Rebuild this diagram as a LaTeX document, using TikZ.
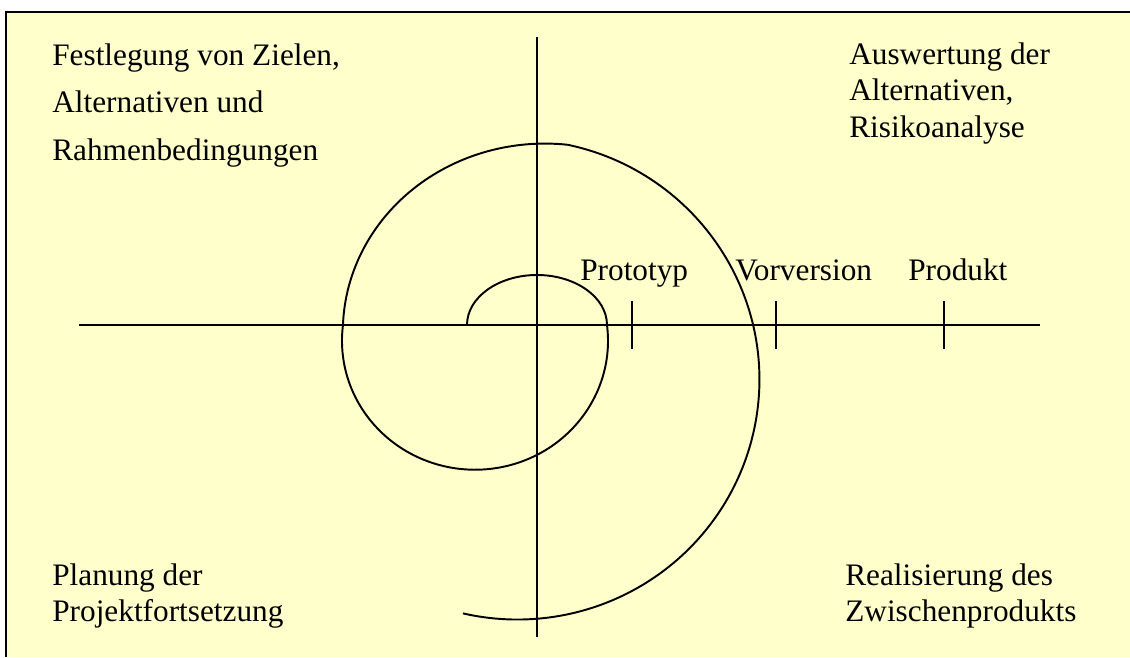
\documentclass[tikz,border=0pt]{standalone}
\usepackage{fontspec}
\setmainfont{Liberation Serif}
\usetikzlibrary{positioning}
\definecolor{PaleYellow}{RGB}{255,255,204}

\tikzset{
  quadrant/.style={anchor=north west, align=left, inner sep=0pt},
  stage/.style={anchor=base west, inner sep=0pt},
  axis/.style={line width=0.8pt}
}

\begin{document}
\begin{tikzpicture}[scale=0.2, font=\fontsize{17.8}{21}\selectfont]
    \useasboundingbox (-53.7,-33.2) rectangle (59.3,32.5);
    % Background and frame
    \fill[white] (-53.7,-33.2) rectangle (59.3,32.5);
    \fill[PaleYellow] (-53.1,-33.2) rectangle (59.3,31.3);
    \draw[line width=1.2pt] (-53.1,-33.2) -- (-53.1,31.3) -- (59.3,31.3);

    % Axes with ticks
    \draw[axis] (0,28.8) -- (0,-31.2);
    \draw[axis] (-45.8,0) -- (50.3,0);
    \foreach \x in {9.5, 23.9, 40.7} {
        \draw[axis] (\x,2.4) -- (\x,-2.4);
    }

    % Spiral
    \draw[line width=1.1pt] (-7,0) arc (180:0:7 and 5)
        arc (7:-187:13.3 and 12.9)
        arc (178:83.5:20.2 and 18.8)
        arc (78:-103:24.2 and 24);

    % Stages
    \node[stage] (prototyp) at (4.3,4.5) {Prototyp};
    \node[stage] (vorversion) at (19.8,4.5) {Vorversion};
    \node[stage] (produkt) at (37.1,4.5) {Produkt};

    % Quadrants
    \node[quadrant, font=\fontsize{17.8}{27.2}\selectfont] (ziele) at (-48.5,28.2)
        {Festlegung von Zielen,\\Alternativen und\\Rahmenbedingungen};
    \node[quadrant] (risiko) at (31.2,28.3)
        {Auswertung der\\Alternativen,\\Risikoanalyse};
    \node[quadrant] (planung) at (-48.5,-23.8)
        {Planung der\\Projektfortsetzung};
    \node[quadrant] (realisierung) at (30.8,-23.8)
        {Realisierung des\\Zwischenprodukts};
\end{tikzpicture}
\end{document}
